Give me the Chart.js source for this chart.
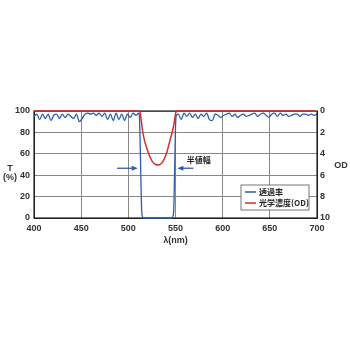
<!DOCTYPE html>
<html>
<head>
<meta charset="utf-8">
<script src="https://cdn.jsdelivr.net/npm/chart.js@4.4.0/dist/chart.umd.min.js"></script>
<style>
  html, body { margin: 0; padding: 0; background: #fff; }
  #wrap { width: 350px; height: 350px; }
</style>
</head>
<body>
<div id="wrap"><canvas id="myChart" width="350" height="350"></canvas></div>
<script>
// transmittance (%) vs wavelength (nm)
const lambdaT = [400, 403, 406, 409, 412, 415, 418, 421, 424, 427, 430, 433, 436, 439, 442, 445, 448, 451, 454, 457,
  460, 463, 466, 469, 472, 475, 478, 481, 484, 487, 490, 493, 496, 499, 502, 505, 508, 511, 512, 513, 514, 515, 516,
  546, 548, 549, 550, 551, 553, 556, 559, 562, 565, 568, 571, 574, 577, 580, 583, 586, 589, 592, 595, 598,
  601, 604, 607, 610, 613, 616, 619, 622, 625, 628, 631, 634, 637, 640, 643, 646, 649, 652, 655, 658,
  661, 664, 667, 670, 673, 676, 679, 682, 685, 688, 691, 694, 697, 700];
const transT = [95, 97, 92, 97, 93, 97, 91, 96, 97, 93, 97, 94, 97, 95, 93, 97, 90, 93, 97, 98,
  97, 98, 96, 98, 95, 98, 92, 97, 91, 98, 92, 97, 91, 97, 94, 98, 96, 98, 90, 50, 10, 1, 0,
  0, 5, 40, 85, 96, 97, 92, 98, 95, 98, 94, 97, 93, 97, 95, 98, 92, 91, 97, 96, 94,
  96, 97, 98, 95, 97, 94, 96, 97, 95, 96, 97, 98, 95, 97, 98, 96, 94, 97, 98, 95,
  98, 96, 97, 95, 96, 97, 97, 95, 97, 97, 96, 97, 96, 97];

// optical density vs wavelength (nm)
const lambdaOD = [400, 512, 513, 514, 515, 517, 520, 523, 526, 529, 532, 535, 538, 541, 544, 547, 549, 550, 551, 700];
const odVals = [0, 0, 0.4, 1.1, 1.8, 2.7, 3.6, 4.3, 4.8, 5.0, 5.05, 4.9, 4.5, 3.8, 2.8, 1.8, 0.9, 0.3, 0, 0];

const xTicks = [400, 450, 500, 550, 600, 650, 700];
const tTicks = [0, 20, 40, 60, 80, 100];
const odTicks = [0, 2, 4, 6, 8, 10];

const seriesNames = ['透過率', '光学濃度(OD)'];
const blue = '#2c5ea8';
const red = '#d2322f';
const font = { family: 'Liberation Sans, Arial, sans-serif', size: 9, weight: 'bold' };

const extras = {
  id: 'extras',
  beforeDatasetsDraw(chart) {
    const { ctx, chartArea: a } = chart;
    ctx.save();
    ctx.strokeStyle = '#222';
    ctx.lineWidth = 1.2;
    ctx.strokeRect(a.left, a.top, a.right - a.left, a.bottom - a.top);
    ctx.restore();
  },
  afterDraw(chart) {
    const { ctx, chartArea: a } = chart;
    const xs = chart.scales.x, ys = chart.scales.y;
    ctx.save();
    ctx.fillStyle = '#333';
    ctx.font = 'bold 9px Liberation Sans, Arial, sans-serif';
    ctx.textAlign = 'center';
    ctx.textBaseline = 'middle';
    ctx.fillText('T', 10, 169);
    ctx.fillText('(%)', 10, 178);
    ctx.fillText('OD', 341, 166);
    ctx.fillText('λ(nm)', (a.left + a.right) / 2, 241);

    // half-width arrows
    const ay = ys.getPixelForValue(46.5);
    function arrow(x1, x2) {
      const p1 = xs.getPixelForValue(x1), p2 = xs.getPixelForValue(x2);
      const d = Math.sign(p2 - p1);
      ctx.strokeStyle = blue;
      ctx.fillStyle = blue;
      ctx.lineWidth = 1.3;
      ctx.beginPath();
      ctx.moveTo(p1, ay);
      ctx.lineTo(p2 - d * 4, ay);
      ctx.stroke();
      ctx.beginPath();
      ctx.moveTo(p2, ay);
      ctx.lineTo(p2 - d * 6, ay - 2.5);
      ctx.lineTo(p2 - d * 6, ay + 2.5);
      ctx.closePath();
      ctx.fill();
    }
    arrow(488, 510);
    arrow(569, 552);
    ctx.fillStyle = '#222';
    ctx.font = 'bold 8px "Noto Sans CJK JP", sans-serif';
    ctx.textAlign = 'left';
    ctx.fillText('半値幅', xs.getPixelForValue(562), ys.getPixelForValue(54));

    // legend box
    const lx = 241, ly = 185, lw = 68, lh = 25;
    ctx.fillStyle = '#fff';
    ctx.fillRect(lx, ly, lw, lh);
    ctx.strokeStyle = '#555';
    ctx.lineWidth = 0.8;
    ctx.strokeRect(lx, ly, lw, lh);
    [blue, red].forEach((c, i) => {
      const y = ly + 7 + i * 11;
      ctx.strokeStyle = c;
      ctx.lineWidth = 1.5;
      ctx.beginPath();
      ctx.moveTo(lx + 4, y);
      ctx.lineTo(lx + 15, y);
      ctx.stroke();
      ctx.fillStyle = '#222';
      ctx.fillText(seriesNames[i], lx + 18, y);
    });
    ctx.restore();
  }
};

const data = {
  datasets: [
    {
      label: seriesNames[1],
      data: lambdaOD.map((x, i) => ({ x: x, y: odVals[i] })),
      borderColor: red,
      borderWidth: 1.5,
      pointRadius: 0,
      cubicInterpolationMode: 'monotone',
      clip: 3,
      yAxisID: 'y2'
    },
    {
      label: seriesNames[0],
      data: lambdaT.map((x, i) => ({ x: x, y: transT[i] })),
      borderColor: blue,
      borderWidth: 1.3,
      pointRadius: 0,
      cubicInterpolationMode: 'monotone',
      clip: 3,
      yAxisID: 'y'
    }
  ]
};

const options = {
  responsive: false,
  animation: false,
  layout: { padding: { top: 111, bottom: 100, left: 0, right: 0 } },
  plugins: { legend: { display: false }, tooltip: { enabled: false } },
  scales: {
    x: {
      type: 'linear', min: 400, max: 700,
      afterBuildTicks: s => { s.ticks = xTicks.map(v => ({ value: v })); },
      afterFit: s => { s.height = 32; },
      ticks: { color: '#333', font: font, padding: 5, maxRotation: 0 },
      grid: { color: '#888', lineWidth: 1, tickLength: 0 },
      border: { color: '#222' }
    },
    y: {
      position: 'left', min: 0, max: 100,
      afterBuildTicks: s => { s.ticks = tTicks.map(v => ({ value: v })); },
      afterFit: s => { s.width = 34; },
      ticks: { color: '#333', font: font, padding: 4 },
      grid: { color: '#888', lineWidth: 1, tickLength: 0 },
      border: { color: '#222' }
    },
    y2: {
      position: 'right', min: 0, max: 10, reverse: true,
      afterBuildTicks: s => { s.ticks = odTicks.map(v => ({ value: v })); },
      afterFit: s => { s.width = 33; },
      ticks: { color: '#333', font: font, padding: 3 },
      grid: { display: false, tickLength: 0 },
      border: { color: '#222' }
    }
  }
};

new Chart(document.getElementById('myChart'), { type: 'line', data: data, options: options, plugins: [extras] });
</script>
</body>
</html>
